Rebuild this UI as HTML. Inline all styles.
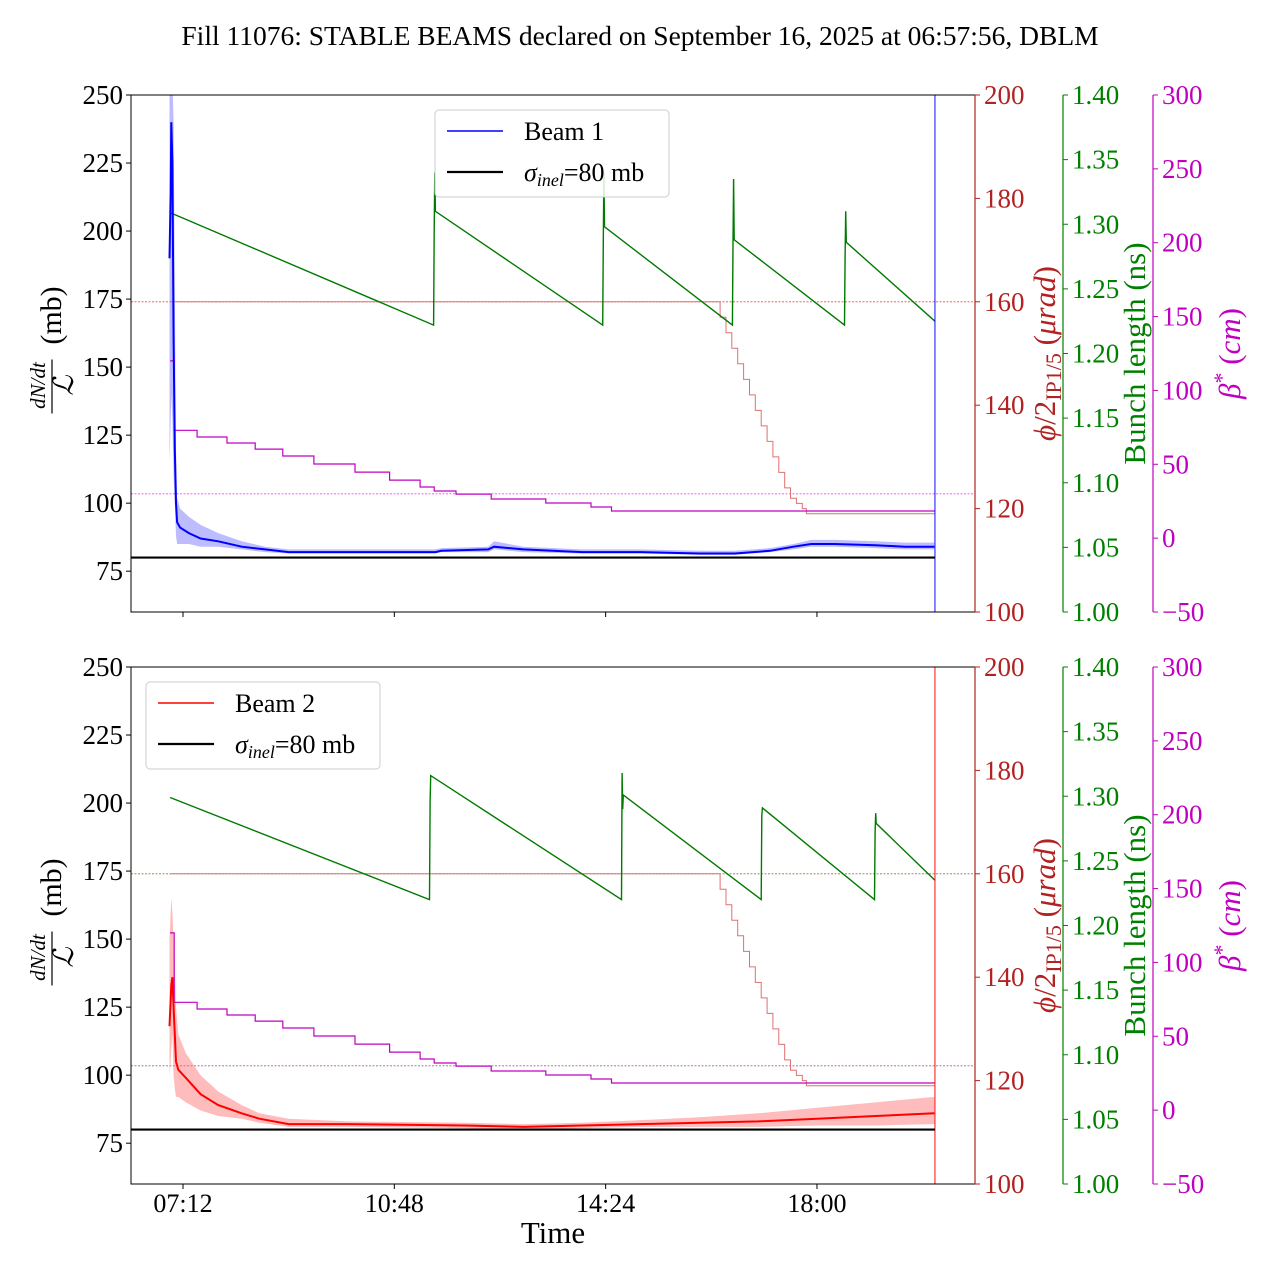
<!DOCTYPE html>
<html><head><meta charset="utf-8"><style>
body{margin:0;background:#fff}
svg{display:block;font-family:"Liberation Serif","DejaVu Serif",serif}
</style></head><body>
<svg id="c" width="1280" height="1280" viewBox="0 0 1280 1280" xmlns="http://www.w3.org/2000/svg">
<text x="640" y="45" text-anchor="middle" font-size="27.5">Fill 11076: STABLE BEAMS declared on September 16, 2025 at 06:57:56, DBLM</text>
<text x="553" y="1243" text-anchor="middle" font-size="31">Time</text>
</svg>
<script>
// ---- data (time in hours) ----
const xTickLabels=["07:12","10:48","14:24","18:00"];
const xTickTimes=[7.2,10.8,14.4,18.0];
const leftTicks=[75,100,125,150,175,200,225,250];
const redTicks=[100,120,140,160,180,200];
const greenTicks=[1.00,1.05,1.10,1.15,1.20,1.25,1.30,1.35,1.40];
const magTicks=[-50,0,50,100,150,200,250,300];
// Beam 1 dN/dt
const b1T=[6.97,6.99,7.00,7.02,7.04,7.06,7.08,7.10,7.15,7.3,7.5,7.8,8.2,8.6,9.0,10,11,11.5,11.6,12.4,12.5,13,14,15,16,16.6,17.2,17.6,17.9,18.3,19,19.5,20.0];
const b1V=[190,215,240,225,160,120,100,93,91,89,87,86,84,83,82,82,82,82,82.5,83,84,83,82,82,81.5,81.5,82.5,84,85,85,84.5,84,84];
const b1Lo=[115,130,140,130,110,100,88,85,85,85,84,84,83,82,81.5,81.5,81.5,81.5,82,82,83,82,81.5,81.5,81,81,82,83,84,84,83.5,83,83];
const b1Hi=[255,255,255,255,240,180,120,102,98,95,92,89,86,84,83,83,83,83,83.5,84,86,84,83,83,82.5,82.5,83.5,85,86.5,86.5,86,85.5,85.5];
// Beam 2 dN/dt
const b2T=[6.97,6.99,7.00,7.02,7.04,7.06,7.08,7.12,7.25,7.5,7.8,8.2,8.5,9.0,10,12,13,14,15,16,17,18,19,20.0];
const b2V=[118,128,133,136,125,115,105,102,99,93,89,86,84,82,82,81.5,81,81.5,82,82.5,83,84,85,86];
const b2Lo=[100,105,110,115,100,95,92,92,90,87,85,84,82.5,81,81,80.5,80,80.5,81,81,81,81.5,81.5,82];
const b2Hi=[150,160,165,160,150,140,125,115,108,100,94,89,86,84,83,82.5,82,82.5,83.5,84.5,86,88,90,92];
// bunch length (ns)
const g1T=[6.98,11.47,11.48,11.49,11.50,14.35,14.36,14.37,14.38,16.56,16.57,16.58,16.59,18.47,18.48,18.49,18.50,20.01];
const g1V=[1.309,1.222,1.296,1.340,1.310,1.222,1.288,1.340,1.298,1.222,1.285,1.335,1.288,1.222,1.275,1.310,1.286,1.225];
const g2T=[6.98,11.40,11.41,11.42,14.67,14.68,14.69,14.70,17.05,17.06,17.07,18.98,18.99,19.00,19.01,20.01];
const g2V=[1.299,1.220,1.295,1.316,1.220,1.318,1.290,1.301,1.220,1.285,1.291,1.220,1.272,1.287,1.279,1.235];
// crossing angle (urad)
const phiT=[6.98,16.35,16.45,16.55,16.65,16.75,16.85,16.95,17.05,17.15,17.25,17.35,17.45,17.55,17.65,17.75,17.82,20.01];
const phiV=[160,157,154,151,148,145,142,139,136,133,130,127,124,122,121,120,119,119];
// beta* (cm)
const betaT=[6.98,7.05,7.44,7.95,8.43,8.90,9.43,10.13,10.72,11.24,11.48,11.85,12.45,13.38,14.15,14.50,20.01];
const betaV=[120,73,68.5,64.4,60.3,55.6,50.2,44.7,39.3,34.6,31.9,29.8,26.5,23.8,21.1,18.4,18.4];
const endT=20.01;

const S=document.getElementById('c'),NS="http://www.w3.org/2000/svg";
const X0=131,X1=975;
const xs=t=>183+(t-7.2)*58.7;
function mk(tag,at,txt){const e=document.createElementNS(NS,tag);for(const k in at)e.setAttribute(k,at[k]);if(txt!==undefined)e.textContent=txt;S.appendChild(e);return e;}
function pts(T,V,f){return T.map((t,i)=>xs(t).toFixed(1)+","+f(V[i]).toFixed(1)).join(" ");}
function stepPts(T,V,f){let a=[];for(let i=0;i<T.length;i++){if(i>0)a.push(xs(T[i]).toFixed(1)+","+f(V[i-1]).toFixed(1));a.push(xs(T[i]).toFixed(1)+","+f(V[i]).toFixed(1));}return a.join(" ");}

function panel(top,beam,T,V,Lo,Hi,col,bandCol,GT,GV,legX,legY,showX){
  const bot=top+517,H=517;
  const yL=v=>top+(250-v)/190*H, yR=v=>top+(200-v)/100*H, yG=v=>top+(1.4-v)/0.4*H, yM=v=>top+(300-v)/350*H;
  const clip="cl"+top;
  const cp=mk('clipPath',{id:clip});const r=document.createElementNS(NS,'rect');r.setAttribute('x',X0);r.setAttribute('y',top);r.setAttribute('width',X1-X0);r.setAttribute('height',H);cp.appendChild(r);
  const g=mk('g',{'clip-path':'url(#'+clip+')'});
  function add(tag,at){const e=document.createElementNS(NS,tag);for(const k in at)e.setAttribute(k,at[k]);g.appendChild(e);return e;}
  let e;
  e=add('line',{x1:X0,x2:X1,y1:yR(160),y2:yR(160),stroke:beam===1?'#e05050':'#808040','stroke-width':0.8,'stroke-dasharray':'2,1.5'});
  
  e=add('line',{x1:X0,x2:X1,y1:yM(30),y2:yM(30),stroke:beam===1?'#ff40ff':'#a060a0','stroke-width':0.8,'stroke-dasharray':'2,1.5'});
  
  const band=T.map((t,i)=>xs(t).toFixed(1)+","+yL(Hi[i]).toFixed(1)).concat(T.slice().reverse().map((t,j)=>{const i=T.length-1-j;return xs(t).toFixed(1)+","+yL(Lo[i]).toFixed(1);})).join(" ");
  e=add('polygon',{points:band,fill:bandCol,'fill-opacity':0.45,stroke:'none'});
  
  e=add('polyline',{points:stepPts(phiT,phiV,yR),fill:'none',stroke:'#e07070','stroke-width':1});
  
  e=add('polyline',{points:stepPts(betaT,betaV,yM),fill:'none',stroke:'#c000c0','stroke-width':1.2});
  
  e=add('polyline',{points:pts(GT,GV,yG),fill:'none',stroke:'#007a00','stroke-width':1.4});
  
  e=add('polyline',{points:pts(T,V,yL),fill:'none',stroke:col,'stroke-width':2});
  
  e=add('line',{x1:xs(endT),x2:xs(endT),y1:top,y2:bot,stroke:col,'stroke-width':1.2,'stroke-opacity':0.8});
  
  e=add('line',{x1:X0,x2:xs(endT),y1:yL(80),y2:yL(80),stroke:'#000','stroke-width':2.2});
  
  e=mk('rect',{x:X0,y:top,width:X1-X0,height:H,fill:'none',stroke:'#000','stroke-width':1});
  
  leftTicks.forEach(v=>{mk('line',{x1:X0-5,x2:X0,y1:yL(v),y2:yL(v),stroke:'#000'});
    const t=mk('text',{x:X0-8,y:yL(v)+9,'text-anchor':'end','font-size':27},v);
    });
  const axes=[[975,'#b22222',redTicks,yR,v=>v],[1063,'#008000',greenTicks,yG,v=>v.toFixed(2)],[1153,'#c000c0',magTicks,yM,v=>v<0?'\u2212'+(-v):v]];
  axes.forEach((a,ai)=>{const [x,c,tk,f,fmt]=a;
    e=mk('line',{x1:x,x2:x,y1:top,y2:bot,stroke:c,'stroke-width':1.2});
    
    tk.forEach(v=>{mk('line',{x1:x,x2:x+5,y1:f(v),y2:f(v),stroke:c});
      const t=mk('text',{x:x+9,y:f(v)+9,fill:c,'font-size':27},fmt(v));
      });
  });
  const mid=top+H/2;
  let t;
  t=mk('text',{transform:`translate(1055,${mid}) rotate(-90)`,'text-anchor':'middle',fill:'#b22222','font-size':31});
  t.innerHTML='<tspan font-style="italic">ϕ</tspan>/2<tspan font-size="22" dy="6">IP1/5</tspan><tspan dy="-6"> (</tspan><tspan font-style="italic">μrad</tspan>)';
  
  t=mk('text',{transform:`translate(1145,${mid}) rotate(-90)`,'text-anchor':'middle',fill:'#008000','font-size':31},'Bunch length (ns)');
  
  t=mk('text',{transform:`translate(1240,${mid}) rotate(-90)`,'text-anchor':'middle',fill:'#c000c0','font-size':31});
  t.innerHTML='<tspan font-style="italic">β</tspan><tspan dy="-11" font-size="22">*</tspan><tspan dy="11"> (</tspan><tspan font-style="italic">cm</tspan>)';
  
  // left label
  const fy=mid+32;
  t=mk('text',{transform:`translate(45,${fy}) rotate(-90)`,'text-anchor':'middle','font-size':21,'font-style':'italic'},'dN/dt');
  
  mk('line',{x1:52,x2:52,y1:fy-26,y2:fy+28,stroke:'#000','stroke-width':1.2});
  t=mk('text',{transform:`translate(73,${fy}) rotate(-90)`,'text-anchor':'middle','font-size':28,'font-style':'italic'},'ℒ');
  
  t=mk('text',{transform:`translate(61,${mid-38}) rotate(-90)`,'text-anchor':'middle','font-size':30},'(mb)');
  
  xTickTimes.forEach((tt,i)=>{mk('line',{x1:xs(tt),x2:xs(tt),y1:bot,y2:bot+5,stroke:'#000'});
    if(showX){const l=mk('text',{x:xs(tt),y:bot+28,'text-anchor':'middle','font-size':26},xTickLabels[i]);
      }});
  const lg=mk('rect',{x:legX,y:legY,width:234,height:87,rx:4,fill:'#fff','fill-opacity':0.85,stroke:'#ccc'});
  
  mk('line',{x1:legX+12,x2:legX+68,y1:legY+21,y2:legY+21,stroke:col,'stroke-width':1.5});
  t=mk('text',{x:legX+89,y:legY+30,'font-size':26},'Beam '+beam);
  
  mk('line',{x1:legX+12,x2:legX+68,y1:legY+62,y2:legY+62,stroke:'#000','stroke-width':2.2});
  t=mk('text',{x:legX+89,y:legY+71,'font-size':26});
  t.innerHTML='<tspan font-style="italic">σ</tspan><tspan font-style="italic" font-size="18" dy="5">inel</tspan><tspan dy="-5">=80 mb</tspan>';
  
}
panel(95,1,b1T,b1V,b1Lo,b1Hi,'#0000ff','#6a6aff',g1T,g1V,435,110,false);
panel(667,2,b2T,b2V,b2Lo,b2Hi,'#ff0000','#ff6a6a',g2T,g2V,146,682,true);
</script>
</body></html>
